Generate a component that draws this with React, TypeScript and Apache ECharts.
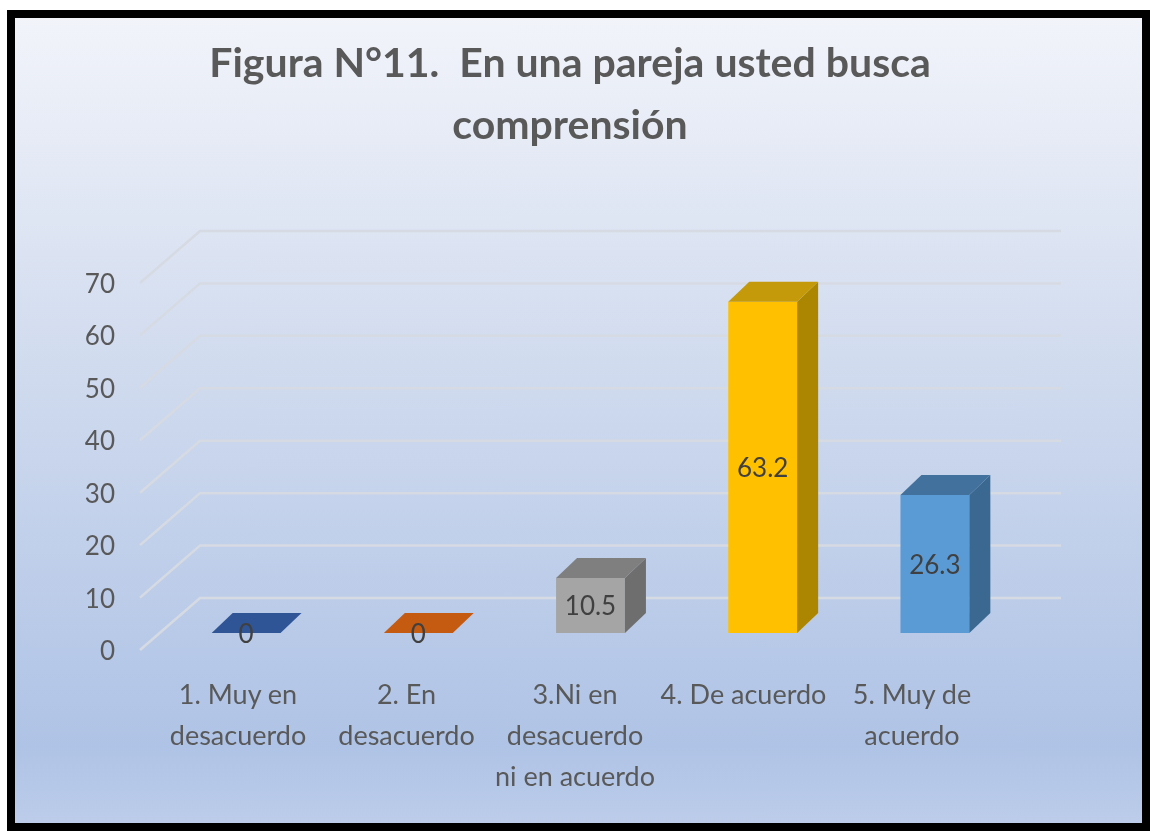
import React, { useEffect, useRef } from "react";
import * as echarts from "echarts";

const titleText = "Figura N°11.  En una pareja usted busca\ncomprensión";
const categories = [
  "1. Muy en\ndesacuerdo",
  "2. En\ndesacuerdo",
  "3.Ni en\ndesacuerdo\nni en acuerdo",
  "4. De acuerdo",
  "5. Muy de\nacuerdo",
];
const values = [0, 0, 10.5, 63.2, 26.3];
const yTicks = [0, 10, 20, 30, 40, 50, 60, 70];
const frontColors = ["#4472C4", "#ED7D31", "#A5A5A5", "#FFC000", "#5B9BD5"];
const topColors = ["#2F5597", "#C55A11", "#7F7F7F", "#C49A0A", "#41719C"];
const sideColors = ["#203864", "#843C0C", "#6E6E6E", "#AD8600", "#3B6891"];

export default function App() {
  const ref = useRef<HTMLDivElement>(null);
  useEffect(() => {
    if (!ref.current) return;
    const chart = echarts.init(ref.current, undefined, { renderer: "svg" });
    const font = "Lato";
    const option: any = {
      animation: false,
      title: {
        text: titleText,
        left: 570,
        top: 30,
        textAlign: "center",
        padding: 0,
        textStyle: {
          fontFamily: font,
          fontWeight: "bold",
          fontSize: 41,
          lineHeight: 62,
          color: "#595959",
        },
      },
      graphic: [
        {
          type: "rect",
          z: -10,
          shape: { x: 11, y: 14, width: 1135, height: 813 },
          style: {
            fill: new echarts.graphic.LinearGradient(0, 0, 0, 1, [
              { offset: 0, color: "#F2F4FA" },
              { offset: 0.45, color: "#CFDAEE" },
              { offset: 0.9, color: "#AFC3E6" },
              { offset: 1, color: "#BDCDEA" },
            ]),
          },
        },
        {
          type: "rect",
          z: 100,
          shape: { x: 11, y: 14, width: 1135, height: 813 },
          style: { fill: "none", stroke: "#000", lineWidth: 8 },
        },
      ],
      grid: [
        { left: 140, top: 283, width: 861, height: 367 },
        { left: 153.75, top: 283, width: 842.5, height: 367 },
      ],
      xAxis: [
        {
          type: "category",
          gridIndex: 0,
          data: categories,
          axisLine: { show: false },
          axisTick: { show: false },
          axisLabel: { show: false },
          splitLine: { show: false },
        },
        {
          type: "category",
          gridIndex: 1,
          data: categories,
          axisLine: { show: false },
          axisTick: { show: false },
          axisLabel: {
            margin: 23,
            fontFamily: font,
            fontSize: 27,
            lineHeight: 41,
            color: "#595959",
            interval: 0,
          },
          splitLine: { show: false },
        },
      ],
      yAxis: [
        {
          type: "value",
          gridIndex: 0,
          min: 0,
          max: 70,
          interval: 10,
          axisLine: { show: false },
          axisTick: { show: false },
          splitLine: { show: false },
          axisLabel: {
            margin: 25,
            fontFamily: font,
            fontSize: 26,
            color: "#595959",
          },
        },
        {
          type: "value",
          gridIndex: 1,
          min: 0,
          max: 70,
          show: false,
          splitLine: { show: false },
        },
      ],
      series: [
        {
          type: "custom",
          xAxisIndex: 0,
          yAxisIndex: 0,
          z: 1,
          clip: false,
          silent: true,
          data: yTicks.map((t) => [0, t]),
          encode: { x: 0, y: 1 },
          renderItem: (params: any, api: any) => {
            const p = api.coord([0, api.value(1)]);
            const cs = params.coordSys;
            const x0 = cs.x;
            const x1 = cs.x + cs.width;
            const y = p[1];
            return {
              type: "polyline",
              shape: {
                points: [
                  [x0, y],
                  [x0 + 60, y - 52],
                  [x1 + 60, y - 52],
                ],
              },
              style: { stroke: "#D6DAE2", lineWidth: 2.5, fill: null },
            };
          },
        },
        {
          type: "custom",
          xAxisIndex: 0,
          yAxisIndex: 0,
          z: 2,
          clip: false,
          data: values.map((v, i) => [i, v]),
          encode: { x: 0, y: 1 },
          renderItem: (params: any, api: any) => {
            const i = api.value(0);
            const v = api.value(1);
            const base = api.coord([i, 0]);
            const top = api.coord([i, v]);
            const w = api.size([1, 0])[0] * 0.4;
            const cx = base[0] + 20;
            const by = base[1] - 17;
            const ty = top[1] - 17;
            const xl = cx - w / 2;
            const xr = cx + w / 2;
            const dx = 21;
            const dy = 20;
            const children: any[] = [];
            if (v > 0) {
              children.push({
                type: "rect",
                shape: { x: xl, y: ty, width: w, height: by - ty },
                style: { fill: frontColors[i] },
              });
              children.push({
                type: "polygon",
                shape: {
                  points: [
                    [xr, ty],
                    [xr + dx, ty - dy],
                    [xr + dx, by - dy],
                    [xr, by],
                  ],
                },
                style: { fill: sideColors[i] },
              });
            }
            children.push({
              type: "polygon",
              shape: {
                points: [
                  [xl, ty],
                  [xl + dx, ty - dy],
                  [xr + dx, ty - dy],
                  [xr, ty],
                ],
              },
              style: { fill: topColors[i] },
            });
            children.push({
              type: "text",
              x: cx,
              y: (ty + by) / 2,
              style: {
                text: String(v),
                fill: "#404040",
                fontSize: 26,
                fontFamily: font,
                align: "center",
                verticalAlign: "middle",
              },
            });
            return { type: "group", children };
          },
        },
      ],
    };
    chart.setOption(option);
    return () => chart.dispose();
  }, []);
  return (
    <div
      ref={ref}
      style={{ position: "fixed", left: 0, top: 0, width: 1150, height: 831 }}
    />
  );
}
